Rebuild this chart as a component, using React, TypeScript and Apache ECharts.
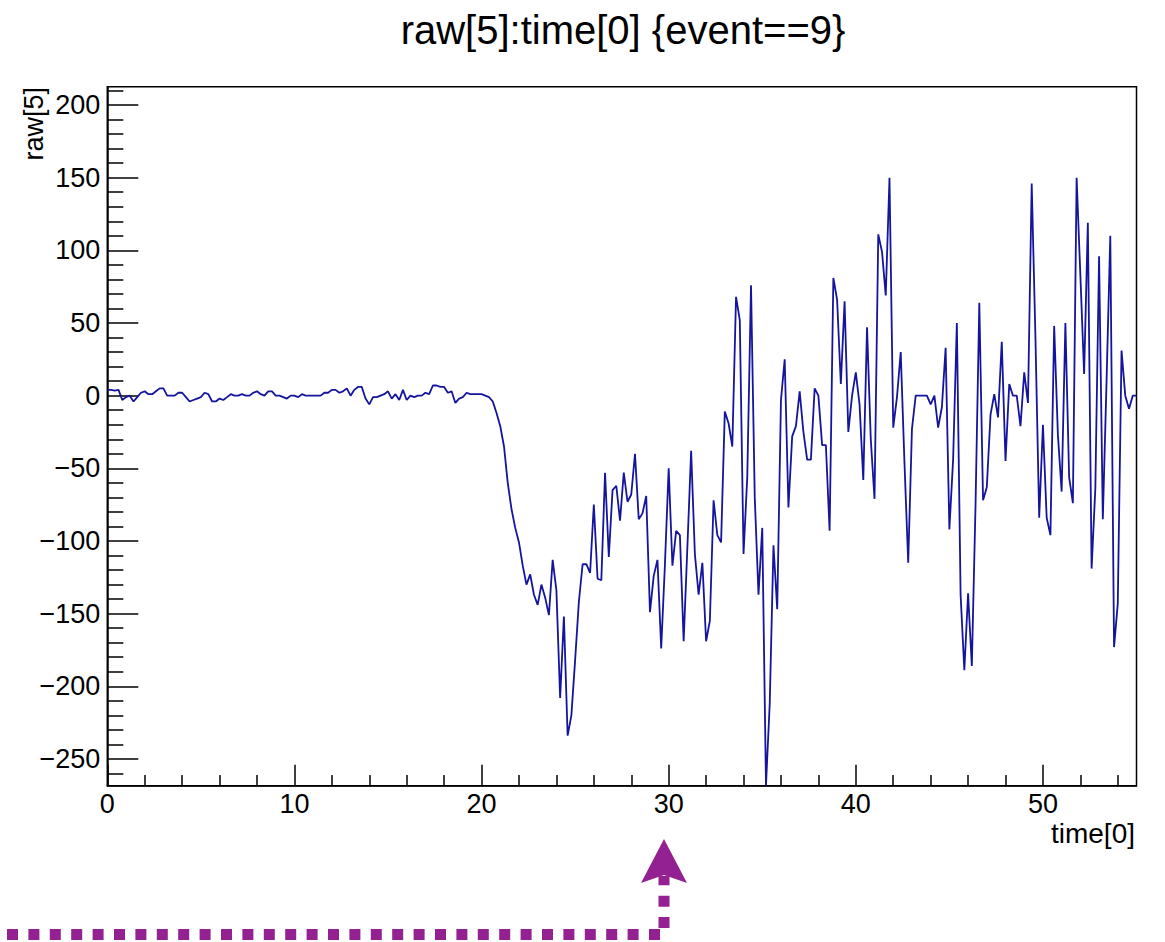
import React, { useEffect, useRef } from "react";
import * as echarts from "echarts";

const TITLE = "raw[5]:time[0] {event==9}";
const X_NAME = "time[0]";
const Y_NAME = "raw[5]";

// sampling step of time[0]
const DT = 0.2;

// raw[5] samples, one every DT starting at time 0
const raw5 = [
  4, 4, 3.5, 4, -3, -1, 0, -4, -1, 2,
  3, 1, 1, 3, 5, 5, 0, 0, 0, 2,
  2, -1, -4, -3, -2, -1, 2, 1, -4, -4,
  -2, -3, -1, 1, 0, 0, 1, 0, 0, 2,
  3, 1, 0, 3, 3, 0, 0, -1, -2, 0,
  0, -1, 1, 0, 0, 0, 0, 0, 2, 2,
  4, 4, 2, 3, 5, 0, 4, 6, 6, -2,
  -6, -1, -1, 0, 1, 3, -2, 1, -3, 4,
  -3, 0, -1, 0, 0, 2, 1, 7, 7, 6,
  6, 2, 3, -5, -2, -1, 2, 1, 1, 1,
  1, 0, -1, -4, -12, -21, -35, -60, -78, -91,
  -101, -117, -130, -123, -137, -144, -130, -139, -151, -113,
  -134, -208, -152, -234, -220, -182, -142, -116, -116, -122,
  -75, -126, -127, -53, -111, -65, -62, -86, -53, -73,
  -68, -40, -85, -81, -69, -149, -124, -113, -174, -116,
  -50, -117, -93, -96, -169, -104, -38, -109, -137, -115,
  -169, -155, -72, -96, -101, -11, -19, -35, 68, 52,
  -109, -56, 76, -70, -137, -91, -268, -212, -103, -147,
  -3, 25, -77, -28, -21, 3, -25, -44, -44, 5,
  0, -34, -34, -93, 81, 66, 8, 65, -25, 0,
  16, -6, -58, 47, -30, -71, 111, 99, 69, 150,
  -22, -1, 30, -46, -115, -23, 0, 0, 0, 0,
  -6, 0, -22, -8, 33, -92, -44, 50, -137, -189,
  -136, -186, -74, 64, -72, -63, -13, 1, -15, 37,
  -45, 8, 0, 0, -21, 16, -5, 146, 40, -84,
  -20, -84, -96, 48, -27, -66, 50, -56, -74, 150,
  83, 15, 119, -119, -64, 96, -85, 10, 110, -173,
  -143, 31, 0, -9, 0, 0,
];

const X_MIN = 0;
const X_MAX = 55;
const Y_MIN = -268.4;
const Y_MAX = 212.6;

const xMajorTicks = [0, 10, 20, 30, 40, 50];
const xMinorTicks = [2, 4, 6, 8, 12, 14, 16, 18, 22, 24, 26, 28, 32, 34, 36, 38, 42, 44, 46, 48, 52, 54];
const yMajorTicks = [-250, -200, -150, -100, -50, 0, 50, 100, 150, 200];
const yMinorTicks = [
  -260, -240, -230, -220, -210, -190, -180, -170, -160, -140, -130, -120, -110,
  -90, -80, -70, -60, -40, -30, -20, -10, 10, 20, 30, 40, 60, 70, 80, 90,
  110, 120, 130, 140, 160, 170, 180, 190, 210,
];

const FONT = '"Liberation Sans", Arial, Helvetica, sans-serif';
const LINE_COLOR = "#14149e";
const PURPLE = "#942192";
const AXIS_LINE = { color: "#000", width: 1.5 };

export default function App() {
  const ref = useRef<HTMLDivElement>(null);

  useEffect(() => {
    document.body.style.margin = "0";
    const chart = echarts.init(ref.current!, null, { renderer: "svg" });
    const points = raw5.map((v, i) => [Number((i * DT).toFixed(1)), v]);
    const minus = (v: number) => String(v).replace("-", "\u2212");

    chart.setOption({
      animation: false,
      backgroundColor: "#ffffff",
      grid: {
        left: 107.3,
        right: 28.5,
        top: 86.7,
        bottom: 156.3,
        show: true,
        borderColor: "#000",
        borderWidth: 1.5,
        backgroundColor: "transparent",
        containLabel: false,
        outerBoundsMode: "none",
      },
      xAxis: [
        {
          type: "value",
          min: X_MIN,
          max: X_MAX,
          position: "bottom",
          axisLine: { show: true, onZero: false, lineStyle: AXIS_LINE },
          axisTick: { show: true, inside: true, length: 21, customValues: xMajorTicks, lineStyle: AXIS_LINE },
          axisLabel: {
            show: true,
            customValues: xMajorTicks,
            margin: 5,
            color: "#000",
            fontSize: 27,
            fontFamily: FONT,
            formatter: minus,
          },
          splitLine: { show: false },
          minorTick: { show: false },
          minorSplitLine: { show: false },
        },
        {
          type: "value",
          min: X_MIN,
          max: X_MAX,
          position: "bottom",
          axisLine: { show: false, onZero: false },
          axisTick: { show: true, inside: true, length: 10.7, customValues: xMinorTicks, lineStyle: AXIS_LINE },
          axisLabel: { show: false },
          splitLine: { show: false },
        },
      ],
      yAxis: [
        {
          type: "value",
          min: Y_MIN,
          max: Y_MAX,
          position: "left",
          axisLine: { show: true, onZero: false, lineStyle: AXIS_LINE },
          axisTick: { show: true, inside: true, length: 31, customValues: yMajorTicks, lineStyle: AXIS_LINE },
          axisLabel: {
            show: true,
            customValues: yMajorTicks,
            margin: 7,
            color: "#000",
            fontSize: 27,
            fontFamily: FONT,
            formatter: minus,
          },
          splitLine: { show: false },
          minorTick: { show: false },
        },
        {
          type: "value",
          min: Y_MIN,
          max: Y_MAX,
          position: "left",
          axisLine: { show: false, onZero: false },
          axisTick: { show: true, inside: true, length: 16, customValues: yMinorTicks, lineStyle: AXIS_LINE },
          axisLabel: { show: false },
          splitLine: { show: false },
        },
      ],
      series: [
        {
          type: "line",
          xAxisIndex: 0,
          yAxisIndex: 0,
          data: points,
          showSymbol: false,
          symbol: "none",
          clip: true,
          silent: true,
          lineStyle: { color: LINE_COLOR, width: 1.8 },
          itemStyle: { color: LINE_COLOR },
        },
      ],
      graphic: [
        {
          type: "text",
          x: 623,
          y: 30,
          style: {
            text: TITLE,
            fontSize: 40,
            fontFamily: FONT,
            fill: "#000",
            align: "center",
            verticalAlign: "middle",
          },
        },
        {
          type: "text",
          x: 34.3,
          y: 87,
          rotation: Math.PI / 2,
          style: {
            text: Y_NAME,
            fontSize: 27,
            fontFamily: FONT,
            fill: "#000",
            align: "right",
            verticalAlign: "middle",
          },
        },
        {
          type: "text",
          x: 1135,
          y: 833,
          style: {
            text: X_NAME,
            fontSize: 28,
            fontFamily: FONT,
            fill: "#000",
            align: "right",
            verticalAlign: "middle",
          },
        },
        {
          type: "polyline",
          shape: { points: [[7, 934.5], [664, 934.5], [664, 876]] },
          style: { stroke: PURPLE, lineWidth: 11, lineDash: [11, 10.4], fill: null, lineCap: "butt" },
        },
        {
          type: "polygon",
          shape: { points: [[664, 839], [687, 883], [664, 875], [641, 883]] },
          style: { fill: PURPLE },
        },
      ],
    });

    return () => chart.dispose();
  }, []);

  return (
    <div
      ref={ref}
      style={{ position: "absolute", left: 0, top: 0, width: 1165, height: 942 }}
    />
  );
}
